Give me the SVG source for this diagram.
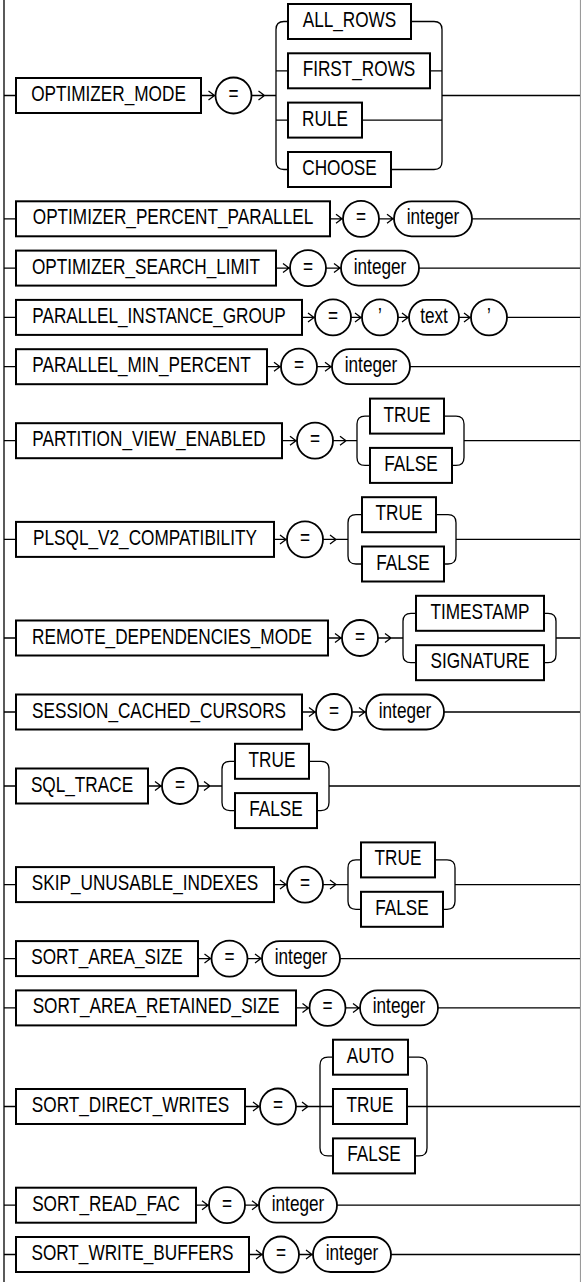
<svg xmlns="http://www.w3.org/2000/svg" width="581" height="1282" viewBox="0 0 581 1282">
<style>
.b{fill:#fff;stroke:#000;stroke-width:2}
.e{fill:#fff;stroke:#000;stroke-width:1.8}
.l{fill:none;stroke:#000;stroke-width:1.3}
.rr{fill:none;stroke:#9a9a9a;stroke-width:1.2}
text{font-family:"Liberation Sans",Arial,sans-serif;font-size:21.5px;text-anchor:middle;fill:#000}
</style>
<rect width="581" height="1282" fill="#fff"/>
<g id="connectors" class="l">
<path d="M4 0V1282"/>
<path class="rr" d="M580.5 0V1282"/>
<!-- row 1 -->
<path d="M4 95.5H16M201 95.5H215.5M208.5 91L214.5 95.5L208.5 100M251.5 95.5H276M258.5 91L264.5 95.5L258.5 100"/>
<path d="M288 21.5H284Q276 21.5 276 29.5V161.5Q276 169.5 284 169.5H288M276 70.8H288M276 120.1H288"/>
<path d="M411 21.5H434Q442 21.5 442 29.5V161.5Q442 169.5 434 169.5H391M430 70.8H442M362 120.1H442M442 95.5H580"/>
<!-- row 2 -->
<path d="M4 218.8H16M330 218.8H343M336 214.3L342 218.8L336 223.3M379 218.8H394M387 214.3L393 218.8L387 223.3M472 218.8H580"/>
<!-- row 3 -->
<path d="M4 268.1H16M276 268.1H290M283 263.6L289 268.1L283 272.6M326 268.1H341M334 263.6L340 268.1L334 272.6M419 268.1H580"/>
<!-- row 4 -->
<path d="M4 317.4H16M302 317.4H315M308 312.9L314 317.4L308 321.9M351 317.4H362M355 312.9L361 317.4L355 321.9M398 317.4H409M402 312.9L408 317.4L402 321.9M459 317.4H471M464 312.9L470 317.4L464 321.9M507 317.4H580"/>
<!-- row 5 -->
<path d="M4 366.7H16M267 366.7H281M274 362.2L280 366.7L274 371.2M317 366.7H332M325 362.2L331 366.7L325 371.2M410 366.7H580"/>
<!-- row 6 -->
<path d="M4 440.7H16M282 440.7H297M290 436.2L296 440.7L290 445.2M333 440.7H357M340 436.2L346 440.7L340 445.2"/>
<path d="M370 416.1H365Q357 416.1 357 424.1V457.4Q357 465.4 365 465.4H370M444 416.1H456Q464 416.1 464 424.1V457.4Q464 465.4 456 465.4H452M464 440.7H580"/>
<!-- row 7 -->
<path d="M4 539.4H16M274 539.4H287M280 534.9L286 539.4L280 543.9M323 539.4H348M330 534.9L336 539.4L330 543.9"/>
<path d="M362 514.7H356Q348 514.7 348 522.7V556Q348 564 356 564H362M436 514.7H448Q456 514.7 456 522.7V556Q456 564 448 564H444M456 539.4H580"/>
<!-- row 8 -->
<path d="M4 638H16M328 638H342M335 633.5L341 638L335 642.5M378 638H403M385 633.5L391 638L385 642.5"/>
<path d="M416 613.3H411Q403 613.3 403 621.3V654.7Q403 662.7 411 662.7H416M544 613.3H548Q556 613.3 556 621.3V654.7Q556 662.7 548 662.7H544M556 638H580"/>
<!-- row 9 -->
<path d="M4 712H16M302 712H316M309 707.5L315 712L309 716.5M352 712H366M359 707.5L365 712L359 716.5M444 712H580"/>
<!-- row 10 -->
<path d="M4 786H16M148 786H162M155 781.5L161 786L155 790.5M198 786H222M204 781.5L210 786L204 790.5"/>
<path d="M235 761.3H230Q222 761.3 222 769.3V802.6Q222 810.6 230 810.6H235M309 761.3H321Q329 761.3 329 769.3V802.6Q329 810.6 321 810.6H317M329 786H580"/>
<!-- row 11 -->
<path d="M4 884.6H16M274 884.6H287M280 880.1L286 884.6L280 889.1M323 884.6H348M330 880.1L336 884.6L330 889.1"/>
<path d="M361 859.9H356Q348 859.9 348 867.9V901.3Q348 909.3 356 909.3H361M435 859.9H447Q455 859.9 455 867.9V901.3Q455 909.3 447 909.3H443M455 884.6H580"/>
<!-- row 12 -->
<path d="M4 958.6H16M198 958.6H211.5M204.5 954.1L210.5 958.6L204.5 963.1M247.5 958.6H262M255 954.1L261 958.6L255 963.1M340 958.6H580"/>
<!-- row 13 -->
<path d="M4 1007.9H16M296 1007.9H309.5M302.5 1003.4L308.5 1007.9L302.5 1012.4M345.5 1007.9H360M353 1003.4L359 1007.9L353 1012.4M438 1007.9H580"/>
<!-- row 14 -->
<path d="M4 1106.5H16M245 1106.5H260M253 1102L259 1106.5L253 1111M296 1106.5H333M302 1102L308 1106.5L302 1111"/>
<path d="M333 1057.2H328Q320 1057.2 320 1065.2V1147.9Q320 1155.9 328 1155.9H333M408 1057.2H419Q427 1057.2 427 1065.2V1147.9Q427 1155.9 419 1155.9H415M407 1106.5H580"/>
<!-- row 15 -->
<path d="M4 1205.2H16M196 1205.2H209M202 1200.7L208 1205.2L202 1209.7M245 1205.2H259M252 1200.7L258 1205.2L252 1209.7M337 1205.2H580"/>
<!-- row 16 -->
<path d="M4 1254.5H16M249 1254.5H263M256 1250L262 1254.5L256 1259M299 1254.5H313M306 1250L312 1254.5L306 1259M391 1254.5H580"/>
</g>

<g id="n-optimizer-mode"><rect class="b" x="16" y="78" width="185" height="35"/><text transform="translate(108.5 101) scale(0.8 1)">OPTIMIZER_MODE</text></g>
<g id="n-eq-1"><circle class="e" cx="233.5" cy="95.5" r="18"/><text transform="translate(233.5 101) scale(0.8 1)">=</text></g>
<g id="n-all-rows"><rect class="b" x="288" y="4" width="123" height="35"/><text transform="translate(349.5 27) scale(0.8 1)">ALL_ROWS</text></g>
<g id="n-first-rows"><rect class="b" x="288" y="53.3" width="142" height="35"/><text transform="translate(359 76.3) scale(0.8 1)">FIRST_ROWS</text></g>
<g id="n-rule"><rect class="b" x="288" y="102.6" width="74" height="35"/><text transform="translate(325 125.6) scale(0.8 1)">RULE</text></g>
<g id="n-choose"><rect class="b" x="288" y="152" width="103" height="35"/><text transform="translate(339.5 175) scale(0.8 1)">CHOOSE</text></g>

<g id="n-optimizer-percent-parallel"><rect class="b" x="16" y="201.3" width="314" height="35"/><text transform="translate(173 224.3) scale(0.8 1)">OPTIMIZER_PERCENT_PARALLEL</text></g>
<g id="n-eq-2"><circle class="e" cx="361" cy="218.8" r="18"/><text transform="translate(361 224.3) scale(0.8 1)">=</text></g>
<g id="n-integer-2"><rect class="e" x="394" y="201.3" width="78" height="35" rx="17.5"/><text transform="translate(433 224.3) scale(0.8 1)">integer</text></g>

<g id="n-optimizer-search-limit"><rect class="b" x="16" y="250.6" width="260" height="35"/><text transform="translate(146 273.6) scale(0.8 1)">OPTIMIZER_SEARCH_LIMIT</text></g>
<g id="n-eq-3"><circle class="e" cx="308" cy="268.1" r="18"/><text transform="translate(308 273.6) scale(0.8 1)">=</text></g>
<g id="n-integer-3"><rect class="e" x="341" y="250.6" width="78" height="35" rx="17.5"/><text transform="translate(380 273.6) scale(0.8 1)">integer</text></g>

<g id="n-parallel-instance-group"><rect class="b" x="16" y="299.9" width="286" height="35"/><text transform="translate(159 322.9) scale(0.8 1)">PARALLEL_INSTANCE_GROUP</text></g>
<g id="n-eq-4"><circle class="e" cx="333" cy="317.4" r="18"/><text transform="translate(333 322.9) scale(0.8 1)">=</text></g>
<g id="n-quote-4a"><circle class="e" cx="380" cy="317.4" r="18"/><text transform="translate(380 322.9) scale(0.8 1)">’</text></g>
<g id="n-text-4"><rect class="e" x="409" y="299.9" width="50" height="35" rx="17.5"/><text transform="translate(434 322.9) scale(0.8 1)">text</text></g>
<g id="n-quote-4b"><circle class="e" cx="489" cy="317.4" r="18"/><text transform="translate(489 322.9) scale(0.8 1)">’</text></g>

<g id="n-parallel-min-percent"><rect class="b" x="16" y="349.2" width="251" height="35"/><text transform="translate(141.5 372.2) scale(0.8 1)">PARALLEL_MIN_PERCENT</text></g>
<g id="n-eq-5"><circle class="e" cx="299" cy="366.7" r="18"/><text transform="translate(299 372.2) scale(0.8 1)">=</text></g>
<g id="n-integer-5"><rect class="e" x="332" y="349.2" width="78" height="35" rx="17.5"/><text transform="translate(371 372.2) scale(0.8 1)">integer</text></g>

<g id="n-partition-view-enabled"><rect class="b" x="16" y="423.2" width="266" height="35"/><text transform="translate(149 446.2) scale(0.8 1)">PARTITION_VIEW_ENABLED</text></g>
<g id="n-eq-6"><circle class="e" cx="315" cy="440.7" r="18"/><text transform="translate(315 446.2) scale(0.8 1)">=</text></g>
<g id="n-true-6"><rect class="b" x="370" y="398.6" width="74" height="35"/><text transform="translate(407 421.6) scale(0.8 1)">TRUE</text></g>
<g id="n-false-6"><rect class="b" x="370" y="447.9" width="82" height="35"/><text transform="translate(411 470.9) scale(0.8 1)">FALSE</text></g>

<g id="n-plsql-v2-compatibility"><rect class="b" x="16" y="521.9" width="258" height="35"/><text transform="translate(145 544.9) scale(0.8 1)">PLSQL_V2_COMPATIBILITY</text></g>
<g id="n-eq-7"><circle class="e" cx="305" cy="539.4" r="18"/><text transform="translate(305 544.9) scale(0.8 1)">=</text></g>
<g id="n-true-7"><rect class="b" x="362" y="497.2" width="74" height="35"/><text transform="translate(399 520.2) scale(0.8 1)">TRUE</text></g>
<g id="n-false-7"><rect class="b" x="362" y="546.5" width="82" height="35"/><text transform="translate(403 569.5) scale(0.8 1)">FALSE</text></g>

<g id="n-remote-dependencies-mode"><rect class="b" x="16" y="620.5" width="312" height="35"/><text transform="translate(172 643.5) scale(0.8 1)">REMOTE_DEPENDENCIES_MODE</text></g>
<g id="n-eq-8"><circle class="e" cx="360" cy="638" r="18"/><text transform="translate(360 643.5) scale(0.8 1)">=</text></g>
<g id="n-timestamp"><rect class="b" x="416" y="595.8" width="128" height="35"/><text transform="translate(480 618.8) scale(0.8 1)">TIMESTAMP</text></g>
<g id="n-signature"><rect class="b" x="416" y="645.2" width="128" height="35"/><text transform="translate(480 668.2) scale(0.8 1)">SIGNATURE</text></g>

<g id="n-session-cached-cursors"><rect class="b" x="16" y="694.5" width="286" height="35"/><text transform="translate(159 717.5) scale(0.8 1)">SESSION_CACHED_CURSORS</text></g>
<g id="n-eq-9"><circle class="e" cx="334" cy="712" r="18"/><text transform="translate(334 717.5) scale(0.8 1)">=</text></g>
<g id="n-integer-9"><rect class="e" x="366" y="694.5" width="78" height="35" rx="17.5"/><text transform="translate(405 717.5) scale(0.8 1)">integer</text></g>

<g id="n-sql-trace"><rect class="b" x="16" y="768.5" width="132" height="35"/><text transform="translate(82 791.5) scale(0.8 1)">SQL_TRACE</text></g>
<g id="n-eq-10"><circle class="e" cx="180" cy="786" r="18"/><text transform="translate(180 791.5) scale(0.8 1)">=</text></g>
<g id="n-true-10"><rect class="b" x="235" y="743.8" width="74" height="35"/><text transform="translate(272 766.8) scale(0.8 1)">TRUE</text></g>
<g id="n-false-10"><rect class="b" x="235" y="793.1" width="82" height="35"/><text transform="translate(276 816.1) scale(0.8 1)">FALSE</text></g>

<g id="n-skip-unusable-indexes"><rect class="b" x="16" y="867.1" width="258" height="35"/><text transform="translate(145 890.1) scale(0.8 1)">SKIP_UNUSABLE_INDEXES</text></g>
<g id="n-eq-11"><circle class="e" cx="305" cy="884.6" r="18"/><text transform="translate(305 890.1) scale(0.8 1)">=</text></g>
<g id="n-true-11"><rect class="b" x="361" y="842.4" width="74" height="35"/><text transform="translate(398 865.4) scale(0.8 1)">TRUE</text></g>
<g id="n-false-11"><rect class="b" x="361" y="891.8" width="82" height="35"/><text transform="translate(402 914.8) scale(0.8 1)">FALSE</text></g>

<g id="n-sort-area-size"><rect class="b" x="16" y="941.1" width="182" height="35"/><text transform="translate(107 964.1) scale(0.8 1)">SORT_AREA_SIZE</text></g>
<g id="n-eq-12"><circle class="e" cx="229.5" cy="958.6" r="18"/><text transform="translate(229.5 964.1) scale(0.8 1)">=</text></g>
<g id="n-integer-12"><rect class="e" x="262" y="941.1" width="78" height="35" rx="17.5"/><text transform="translate(301 964.1) scale(0.8 1)">integer</text></g>

<g id="n-sort-area-retained-size"><rect class="b" x="16" y="990.4" width="280" height="35"/><text transform="translate(156 1013.4) scale(0.8 1)">SORT_AREA_RETAINED_SIZE</text></g>
<g id="n-eq-13"><circle class="e" cx="327.5" cy="1007.9" r="18"/><text transform="translate(327.5 1013.4) scale(0.8 1)">=</text></g>
<g id="n-integer-13"><rect class="e" x="360" y="990.4" width="78" height="35" rx="17.5"/><text transform="translate(399 1013.4) scale(0.8 1)">integer</text></g>

<g id="n-sort-direct-writes"><rect class="b" x="16" y="1089" width="229" height="35"/><text transform="translate(130.5 1112) scale(0.8 1)">SORT_DIRECT_WRITES</text></g>
<g id="n-eq-14"><circle class="e" cx="278" cy="1106.5" r="18"/><text transform="translate(278 1112) scale(0.8 1)">=</text></g>
<g id="n-auto"><rect class="b" x="333" y="1039.7" width="75" height="35"/><text transform="translate(370.5 1062.7) scale(0.8 1)">AUTO</text></g>
<g id="n-true-14"><rect class="b" x="333" y="1089" width="74" height="35"/><text transform="translate(370 1112) scale(0.8 1)">TRUE</text></g>
<g id="n-false-14"><rect class="b" x="333" y="1138.4" width="82" height="35"/><text transform="translate(374 1161.4) scale(0.8 1)">FALSE</text></g>

<g id="n-sort-read-fac"><rect class="b" x="16" y="1187.7" width="180" height="35"/><text transform="translate(106 1210.7) scale(0.8 1)">SORT_READ_FAC</text></g>
<g id="n-eq-15"><circle class="e" cx="227" cy="1205.2" r="18"/><text transform="translate(227 1210.7) scale(0.8 1)">=</text></g>
<g id="n-integer-15"><rect class="e" x="259" y="1187.7" width="78" height="35" rx="17.5"/><text transform="translate(298 1210.7) scale(0.8 1)">integer</text></g>

<g id="n-sort-write-buffers"><rect class="b" x="16" y="1237" width="233" height="35"/><text transform="translate(132.5 1260) scale(0.8 1)">SORT_WRITE_BUFFERS</text></g>
<g id="n-eq-16"><circle class="e" cx="281" cy="1254.5" r="18"/><text transform="translate(281 1260) scale(0.8 1)">=</text></g>
<g id="n-integer-16"><rect class="e" x="313" y="1237" width="78" height="35" rx="17.5"/><text transform="translate(352 1260) scale(0.8 1)">integer</text></g>
</svg>
